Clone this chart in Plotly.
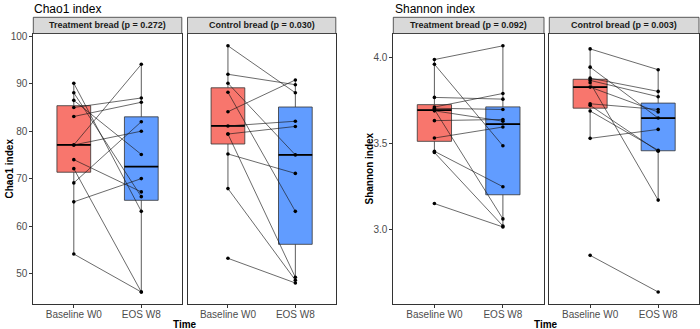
import numpy as np
import plotly.graph_objects as go

# ---------------- data ----------------
time_labels = ["Baseline W0", "EOS W8"]

chao1_treat_w0 = [90.1, 88.1, 86.5, 85.0, 83.1, 77.1, 77.1, 74.0, 72.1, 69.1, 65.1, 54.1]
chao1_treat_w8 = [63.1, 66.2, 75.1, 87.0, 86.1, 94.1, 80.0, 67.2, 46.1, 82.0, 70.0, 46.1]
chao1_ctrl_w0 = [98.0, 92.0, 90.1, 88.2, 84.1, 81.1, 79.4, 79.4, 75.2, 67.9, 53.2]
chao1_ctrl_w8 = [88.1, 89.8, 75.0, 63.1, 90.8, 82.1, 81.0, 49.2, 71.1, 48.6, 48.0]

shannon_treat_w0 = [3.988, 3.961, 3.768, 3.712, 3.705, 3.698, 3.690, 3.633, 3.532, 3.455, 3.448, 3.151]
shannon_treat_w8 = [4.068, 3.487, 3.758, 3.791, 3.698, 3.062, 3.630, 3.640, 3.596, 3.249, 3.021, 3.015]
shannon_ctrl_w0 = [4.050, 3.944, 3.880, 3.867, 3.853, 3.828, 3.731, 3.722, 3.689, 3.530, 2.850]
shannon_ctrl_w8 = [3.929, 3.648, 3.803, 3.772, 3.171, 3.683, 3.698, 3.455, 3.461, 3.582, 2.637]

strip_labels = ["Treatment bread (p = 0.272)", "Control bread (p = 0.030)",
                "Treatment bread (p = 0.092)", "Control bread (p = 0.003)"]
plot_titles = ["Chao1 index", "Shannon index"]
y_titles = ["Chao1 index", "Shannon index"]
x_title = "Time"
chao1_ticks = [50, 60, 70, 80, 90, 100]
shannon_ticks = [3.0, 3.5, 4.0]

# ---------------- layout helpers ----------------
W, H = 700, 329
FONT = "Liberation Sans, Arial, sans-serif"
BOX_COLORS = ["#F8766D", "#619CFF"]
EDGE = "#333333"


def px(x):
    return x / W


def py(y):
    return 1 - y / H


def box_stats(v):
    a = np.asarray(v, dtype=float)
    q1, med, q3 = np.percentile(a, [25, 50, 75])
    iqr = q3 - q1
    lf = a[a >= q1 - 1.5 * iqr].min()
    uf = a[a <= q3 + 1.5 * iqr].max()
    return q1, med, q3, lf, uf


def padded_range(*arrays):
    allv = np.concatenate([np.asarray(a, float) for a in arrays])
    lo, hi = allv.min(), allv.max()
    pad = 0.05 * (hi - lo)
    return [lo - pad, hi + pad]


panels = [
    (chao1_treat_w0, chao1_treat_w8, "x", "y"),
    (chao1_ctrl_w0, chao1_ctrl_w8, "x2", "y2"),
    (shannon_treat_w0, shannon_treat_w8, "x3", "y3"),
    (shannon_ctrl_w0, shannon_ctrl_w8, "x4", "y4"),
]

x_domains = [[px(33.3), px(181.8)], [px(187.5), px(335.8)],
             [px(393.3), px(544.0)], [px(549.3), px(699.0)]]
y_domain = [py(304.3), py(33.5)]
BOX_W = 0.5

fig = go.Figure()

for (w0, w8, xa, ya) in panels:
    for pos, vals, col in [(1, w0, BOX_COLORS[0]), (2, w8, BOX_COLORS[1])]:
        q1, med, q3, lf, uf = box_stats(vals)
        fig.add_trace(go.Box(
            x=[pos], q1=[q1], median=[med], q3=[q3], lowerfence=[lf], upperfence=[uf],
            width=BOX_W, fillcolor=col, line=dict(color=EDGE, width=0.8),
            whiskerwidth=0, boxpoints=False, showlegend=False, hoverinfo="skip",
            xaxis=xa, yaxis=ya))
        fig.add_trace(go.Scatter(
            x=[pos - BOX_W / 2, pos + BOX_W / 2], y=[med, med], mode="lines",
            line=dict(color="#000000", width=1.8), showlegend=False, hoverinfo="skip",
            xaxis=xa, yaxis=ya))
    lx, ly = [], []
    for a, b in zip(w0, w8):
        lx += [1, 2, None]
        ly += [a, b, None]
    fig.add_trace(go.Scatter(
        x=lx, y=ly, mode="lines", line=dict(color="#1a1a1a", width=0.65),
        showlegend=False, hoverinfo="skip", xaxis=xa, yaxis=ya))
    fig.add_trace(go.Scatter(
        x=[1] * len(w0) + [2] * len(w8), y=list(w0) + list(w8), mode="markers",
        marker=dict(color="#000000", size=3.6), showlegend=False, hoverinfo="skip",
        xaxis=xa, yaxis=ya))

chao_range = padded_range(chao1_treat_w0, chao1_treat_w8, chao1_ctrl_w0, chao1_ctrl_w8)
shan_range = padded_range(shannon_treat_w0, shannon_treat_w8, shannon_ctrl_w0, shannon_ctrl_w8)

common_x = dict(range=[0.4, 2.6], tickmode="array", tickvals=[1, 2], ticktext=time_labels,
                ticks="outside", ticklen=3, tickwidth=0.8, tickcolor=EDGE,
                ticklabelstandoff=-2,
                showline=True, mirror=True, linecolor=EDGE, linewidth=0.8,
                showgrid=False, zeroline=False, automargin=False, fixedrange=True,
                tickfont=dict(size=10, color="#4D4D4D", family=FONT))
common_y = dict(showline=True, mirror=True, linecolor=EDGE, linewidth=0.8,
                showgrid=False, zeroline=False, automargin=False, fixedrange=True,
                domain=y_domain,
                tickfont=dict(size=10, color="#4D4D4D", family=FONT))

layout = dict(
    width=W, height=H, margin=dict(l=0, r=0, t=0, b=0),
    paper_bgcolor="white", plot_bgcolor="white", showlegend=False,
    font=dict(family=FONT, color="#000000"),
)
for i, (xa, ya, dom) in enumerate(zip(["x", "x2", "x3", "x4"], ["y", "y2", "y3", "y4"], x_domains)):
    xname = "xaxis" if i == 0 else f"xaxis{i + 1}"
    yname = "yaxis" if i == 0 else f"yaxis{i + 1}"
    layout[xname] = dict(common_x, domain=dom, anchor=ya)
    yd = dict(common_y, anchor=xa)
    if i in (0, 1):
        yd["range"] = chao_range
        yd["tickvals"] = chao1_ticks
    else:
        yd["range"] = shan_range
        yd["tickvals"] = shannon_ticks
        yd["tickformat"] = ".1f"
    if i in (0, 2):
        yd.update(ticks="outside", ticklen=3, tickwidth=0.8, tickcolor=EDGE, showticklabels=True)
    else:
        yd.update(ticks="", showticklabels=False)
    layout[yname] = yd

fig.update_layout(**layout)

# strips
shapes = []
annotations = []
strip_top, strip_bot = 17.3, 33.5
for dom, lab in zip(x_domains, strip_labels):
    shapes.append(dict(type="rect", xref="paper", yref="paper",
                       x0=dom[0], x1=dom[1], y0=py(strip_bot), y1=py(strip_top),
                       fillcolor="#D9D9D9", line=dict(color=EDGE, width=0.8), layer="above"))
    annotations.append(dict(xref="paper", yref="paper", x=(dom[0] + dom[1]) / 2,
                            y=py((strip_top + strip_bot) / 2), text=f"<b>{lab}</b>",
                            showarrow=False, xanchor="center", yanchor="middle",
                            font=dict(size=9, color="#1A1A1A", family=FONT)))

# plot titles
for xpos, t in zip([32.0, 393.3], plot_titles):
    annotations.append(dict(xref="paper", yref="paper", x=px(xpos), y=py(8.5), text=t,
                            showarrow=False, xanchor="left", yanchor="middle",
                            font=dict(size=12, color="#000000", family=FONT)))
# y axis titles
for xpos, t in zip([8.5, 368.5], y_titles):
    annotations.append(dict(xref="paper", yref="paper", x=px(xpos), y=py(169), text=f"<b>{t}</b>",
                            showarrow=False, textangle=-90, xanchor="center", yanchor="middle",
                            font=dict(size=10, color="#000000", family=FONT)))
# x axis titles
for xpos in [184.6, 546.3]:
    annotations.append(dict(xref="paper", yref="paper", x=px(xpos), y=py(324.5),
                            text=f"<b>{x_title}</b>", showarrow=False,
                            xanchor="center", yanchor="middle",
                            font=dict(size=10, color="#000000", family=FONT)))

fig.update_layout(shapes=shapes, annotations=annotations)
fig.write_html("out.html", config={"displayModeBar": False},
               post_script="document.body.style.margin='0';document.body.style.overflow='hidden';")
